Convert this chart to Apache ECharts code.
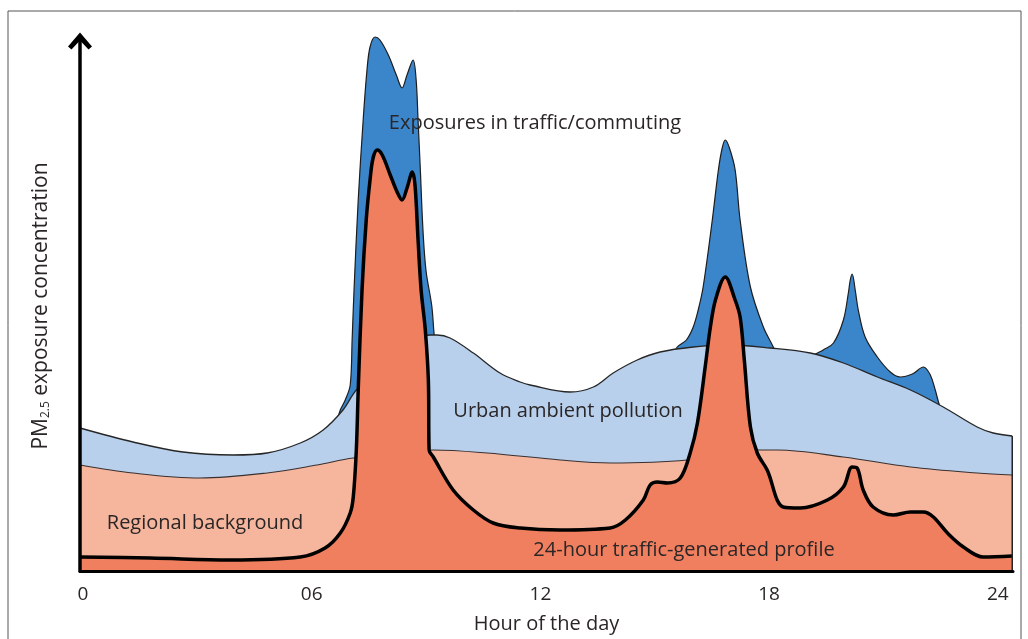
<!DOCTYPE html>
<html>
<head>
<meta charset="utf-8">
<script src="https://cdn.jsdelivr.net/npm/echarts@6/dist/echarts.min.js"></script>
<style>
html,body{margin:0;padding:0;background:#fff;}
#chart{width:1028px;height:639px;}
</style>
</head>
<body>
<div id="chart"></div>
<script>
// ---- data (x: hour of day, y: relative PM2.5 exposure concentration) ----
const xTickValues = [0, 6, 12, 18, 24];
const xTickLabels = ['0', '06', '12', '18', '24'];

const exposuresTraffic = [
  [-0.08, 10], [3, 9], [6.0, 18], [6.5, 26], [6.75, 32.2], [6.88, 34.2], [7.01, 37.2],
  [7.06, 46.2], [7.11, 56.2], [7.22, 74.2], [7.35, 90.2], [7.45, 100.2], [7.53, 104.8],
  [7.66, 106.8], [7.79, 106.2], [8.01, 103.2], [8.22, 99.2], [8.37, 96.6], [8.50, 99.2],
  [8.66, 102.2], [8.74, 98.2], [8.79, 90.2], [8.85, 80.2], [8.92, 68], [9.0, 60],
  [9.15, 53], [9.21, 47.5], [9.3, 42], [10.0, 30], [12.5, 28], [14.5, 38], [15.2, 40],
  [15.59, 44.8], [15.83, 46.2], [16.01, 48.8], [16.14, 52.2], [16.27, 56.8], [16.51, 70.2],
  [16.67, 80.2], [16.77, 84.6], [16.85, 86.2], [16.96, 84.6], [17.11, 80.2], [17.24, 70.2],
  [17.51, 56.8], [17.85, 48.8], [18.11, 44.8], [18.5, 38], [19.0, 40], [19.16, 43.0],
  [19.42, 44.2], [19.69, 45.6], [19.95, 50.2], [20.08, 55.6], [20.13, 58.2], [20.18, 59.4],
  [20.26, 56.2], [20.34, 52.2], [20.52, 46.8], [20.84, 42.8], [21.18, 39.8], [21.44, 38.8],
  [21.76, 39.4], [22.05, 40.8], [22.23, 39.2], [22.36, 36.2], [22.49, 32.8], [23.0, 25],
  [24.38, 20]
];

const urbanAmbient = [
  [-0.08, 28.6], [1.31, 25.8], [2.62, 23.8], [3.94, 23.2], [4.83, 23.6], [5.70, 25.6],
  [6.30, 28.2], [6.82, 32.2], [7.22, 36.6], [8.2, 42], [9.11, 47.2], [9.29, 47.2],
  [9.63, 46.6], [10.24, 43.6], [10.94, 39.6], [11.47, 37.8], [11.73, 37.2], [12.78, 35.8],
  [13.39, 36.8], [13.91, 39.6], [14.54, 42.2], [15.14, 43.8], [16.01, 44.8], [16.90, 45.2],
  [18.03, 44.6], [19.08, 43.6], [19.95, 41.6], [20.84, 38.8], [21.71, 36.2], [22.57, 32.8],
  [23.46, 28.8], [23.88, 27.6], [24.38, 27.0]
];

const regionalBackground = [
  [-0.08, 21.2], [1.31, 19.6], [3.07, 18.6], [4.83, 19.6], [6.14, 21.2], [7.09, 22.6],
  [8.5, 23.5], [9.19, 24.2], [10.60, 23.6], [12.52, 22.2], [13.83, 21.6], [15.85, 22.2],
  [17.32, 24.2], [18.22, 24.2], [19.95, 22.8], [21.71, 20.8], [23.46, 19.6], [24.38, 19.2]
];

const trafficProfile = [
  [-0.08, 2.8], [1.76, 2.6], [3.86, 2.2], [5.70, 2.8], [6.35, 4.6], [6.75, 7.6], [7.01, 11.6],
  [7.09, 14.8], [7.17, 24.2], [7.22, 36.2], [7.32, 56.2], [7.43, 70.2], [7.53, 78.2],
  [7.61, 82.6], [7.72, 84.2], [7.85, 83.2], [8.06, 79.2], [8.24, 75.8], [8.37, 74.2],
  [8.50, 76.6], [8.64, 79.8], [8.71, 77.2], [8.79, 66.2], [8.87, 56.2], [8.98, 48.2],
  [9.06, 38.2], [9.08, 24.2], [9.19, 22.8], [9.71, 16.2], [10.24, 12.2], [10.76, 9.6],
  [11.47, 8.6], [12.52, 8.2], [13.83, 8.6], [14.23, 10.2], [14.70, 14.2], [14.88, 17.2],
  [15.07, 17.8], [15.33, 17.6], [15.67, 18.6], [15.93, 23.6], [16.12, 29.6], [16.33, 41.2],
  [16.46, 48.8], [16.6, 54.4], [16.85, 58.8], [17.1, 54.4], [17.24, 50.8],
  [17.35, 42.2], [17.51, 28.8], [17.69, 23.6], [17.95, 20.2], [18.37, 12.8], [18.82, 12.6],
  [19.53, 14.2], [19.95, 16.8], [20.18, 20.8], [20.31, 20.6], [20.47, 16.2], [20.73, 12.8],
  [21.26, 11.2], [21.71, 11.8], [22.05, 11.8], [22.31, 10.8], [22.68, 7.6], [23.10, 4.8],
  [23.62, 2.8], [24.38, 3.0]
];

const labels = {
  exposures: 'Exposures in traffic/commuting',
  urban: 'Urban ambient pollution',
  regional: 'Regional background',
  traffic: '24-hour traffic-generated profile',
  xName: 'Hour of the day'
};

// ---- chart ----
const FONT = '"Open Sans", "Noto Sans", sans-serif';
const TXT = '#2a2627';
const chart = echarts.init(document.getElementById('chart'), null, { renderer: 'canvas' });

function areaSeries(name, data, fill, lineColor, lineWidth, z) {
  return {
    name: name, type: 'line', data: data, showSymbol: false, silent: true,
    smooth: 0.35, clip: false, z: z,
    lineStyle: { color: lineColor, width: lineWidth, join: 'round' },
    areaStyle: { color: fill, opacity: 1 },
    emphasis: { disabled: true }
  };
}

const lastUrban = urbanAmbient[urbanAmbient.length - 1];

chart.setOption({
  animation: false,
  backgroundColor: '#ffffff',
  grid: { left: 80, width: 933, top: 41, height: 530, outerBoundsMode: 'none', containLabel: false },
  xAxis: {
    type: 'value', min: -0.08, max: 24.4, z: 20,
    axisLine: { show: true, lineStyle: { color: '#000', width: 3 } },
    axisTick: { show: false },
    splitLine: { show: false },
    axisLabel: {
      customValues: xTickValues,
      formatter: function (v) { return xTickLabels[xTickValues.indexOf(v)]; },
      fontFamily: FONT, fontSize: 19, color: TXT, margin: 14
    },
    name: labels.xName, nameLocation: 'middle', nameGap: 43,
    nameTextStyle: { fontFamily: FONT, fontSize: 20, color: TXT }
  },
  yAxis: {
    type: 'value', min: 0, max: 106, z: 20,
    axisLine: {
      show: true, onZero: false,
      lineStyle: { color: '#000', width: 3.5 },
      symbol: ['none', 'path://M12,0 L24,14 L20.5,17 L12,8 L3.5,17 L0,14 Z'],
      symbolSize: [24, 22]
    },
    axisTick: { show: false },
    axisLabel: { show: false },
    splitLine: { show: false },
    name: '{a|PM}{b|2.5}{a| exposure concentration}',
    nameLocation: 'middle', nameRotate: 90, nameGap: 28,
    nameTextStyle: {
      rich: {
        a: { fontFamily: FONT, fontSize: 21, color: TXT },
        b: { fontFamily: FONT, fontSize: 12, color: TXT, verticalAlign: 'bottom', padding: [7, 0, 0, 0] }
      }
    }
  },
  graphic: [
    { type: 'rect', shape: { x: 8, y: 11, width: 1013, height: 640 }, style: { fill: 'none', stroke: '#555', lineWidth: 1 }, silent: true, z: 0 },
    { type: 'text', x: 535, y: 123, style: { text: labels.exposures, fontFamily: FONT, fontSize: 20, fill: TXT, align: 'center', verticalAlign: 'middle' }, z: 100 },
    { type: 'text', x: 568, y: 411, style: { text: labels.urban, fontFamily: FONT, fontSize: 20, fill: TXT, align: 'center', verticalAlign: 'middle' }, z: 100 },
    { type: 'text', x: 205, y: 523, style: { text: labels.regional, fontFamily: FONT, fontSize: 20, fill: TXT, align: 'center', verticalAlign: 'middle' }, z: 100 },
    { type: 'text', x: 684, y: 550, style: { text: labels.traffic, fontFamily: FONT, fontSize: 20, fill: TXT, align: 'center', verticalAlign: 'middle' }, z: 100 }
  ],
  series: [
    areaSeries('Exposures in traffic/commuting', exposuresTraffic, '#3b86cb', '#1d1d1d', 1.2, 2),
    areaSeries('Urban ambient pollution', urbanAmbient, '#b9d0ec', '#262626', 1.3, 3),
    areaSeries('Regional background', regionalBackground, '#f5b69d', '#3a3030', 1.1, 4),
    areaSeries('24-hour traffic-generated profile', trafficProfile, '#f07f5f', '#000000', 3.5, 5),
    {
      type: 'line', silent: true, showSymbol: false, clip: false, z: 6,
      data: [[lastUrban[0], 0], [lastUrban[0], lastUrban[1]]],
      lineStyle: { color: '#222', width: 1.5 }
    }
  ]
});
</script>
</body>
</html>
